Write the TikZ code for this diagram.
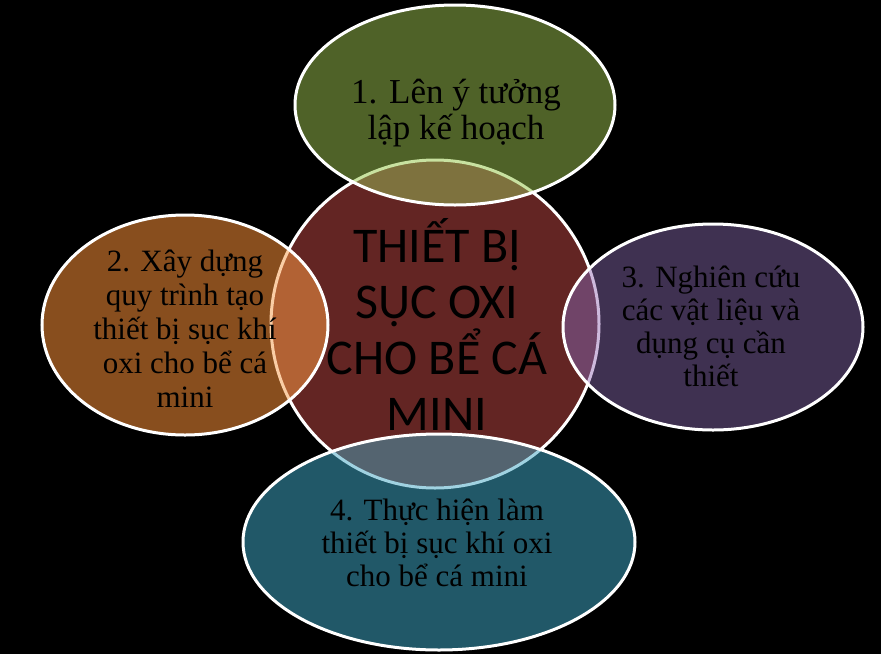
\documentclass[tikz,border=0pt]{standalone}
\usepackage{fontspec}
\setmainfont{Liberation Serif}
\newfontfamily\calib{Carlito}
\definecolor{cred}{RGB}{99,37,35}
\definecolor{colT}{RGB}{79,98,40}
\definecolor{colL}{RGB}{136,78,30}
\definecolor{colR}{RGB}{63,49,81}
\definecolor{colB}{RGB}{33,88,104}
\definecolor{ovT}{RGB}{126,114,62}
\definecolor{ovL}{RGB}{178,98,52}
\definecolor{ovR}{RGB}{112,68,104}
\definecolor{ovB}{RGB}{84,100,112}
\definecolor{lnT}{RGB}{200,225,160}
\definecolor{lnL}{RGB}{250,205,165}
\definecolor{lnR}{RGB}{205,185,220}
\definecolor{lnB}{RGB}{160,210,225}
\begin{document}
\begin{tikzpicture}[x=1pt,y=-1pt,
  outline/.style={draw=white, line width=3pt},
  lbl/.style={align=center, text=black, inner sep=0pt, font=\fontsize{31}{33}\selectfont}]
\fill[black] (0,0) rectangle (881,654);
\useasboundingbox (0,0) rectangle (881,654);
\coordinate (C) at (435,324);
\coordinate (T) at (455,105);
\coordinate (L) at (185,325);
\coordinate (R) at (713,327);
\coordinate (B) at (439,542);
% centre
\fill[cred] (C) circle [radius=164pt];
\draw[outline] (C) circle [radius=164pt];
% top
\fill[colT] (T) ellipse [x radius=160pt, y radius=100pt];
\begin{scope}
\clip (T) ellipse [x radius=160pt, y radius=100pt];
\fill[ovT] (C) circle [radius=164pt];
\draw[draw=lnT, line width=3pt] (C) circle [radius=164pt];
\end{scope}
\draw[outline] (T) ellipse [x radius=160pt, y radius=100pt];
% left
\fill[colL] (L) ellipse [x radius=143pt, y radius=110pt];
\begin{scope}
\clip (L) ellipse [x radius=143pt, y radius=110pt];
\fill[ovL] (C) circle [radius=164pt];
\draw[draw=lnL, line width=3pt] (C) circle [radius=164pt];
\end{scope}
\draw[outline] (L) ellipse [x radius=143pt, y radius=110pt];
% right
\fill[colR] (R) ellipse [x radius=150pt, y radius=103pt];
\begin{scope}
\clip (R) ellipse [x radius=150pt, y radius=103pt];
\fill[ovR] (C) circle [radius=164pt];
\draw[draw=lnR, line width=3pt] (C) circle [radius=164pt];
\end{scope}
\draw[outline] (R) ellipse [x radius=150pt, y radius=103pt];
% bottom
\fill[colB] (B) ellipse [x radius=196pt, y radius=108pt];
\begin{scope}
\clip (B) ellipse [x radius=196pt, y radius=108pt];
\fill[ovB] (C) circle [radius=164pt];
\draw[draw=lnB, line width=3pt] (C) circle [radius=164pt];
\end{scope}
\draw[outline] (B) ellipse [x radius=196pt, y radius=108pt];
% texts
\node[lbl, font=\calib\fontsize{50}{56}\selectfont] (t0) at (437,324) {THIẾT BỊ\\SỤC OXI\\CHO BỂ CÁ\\MINI};
\node[lbl, font=\fontsize{35}{36}\selectfont] (t1) at (456,113) {1. Lên ý tưởng\\lập kế hoạch};
\node[lbl, font=\fontsize{31}{34}\selectfont] (t2) at (185,329) {2. Xây dựng\\quy trình tạo\\thiết bị sục khí\\oxi cho bể cá\\mini};
\node[lbl] (t3) at (711,326) {3. Nghiên cứu\\các vật liệu và\\dụng cụ cần\\thiết};
\node[lbl] (t4) at (437,543) {4. Thực hiện làm\\thiết bị sục khí oxi\\cho bể cá mini};
\end{tikzpicture}
\end{document}
